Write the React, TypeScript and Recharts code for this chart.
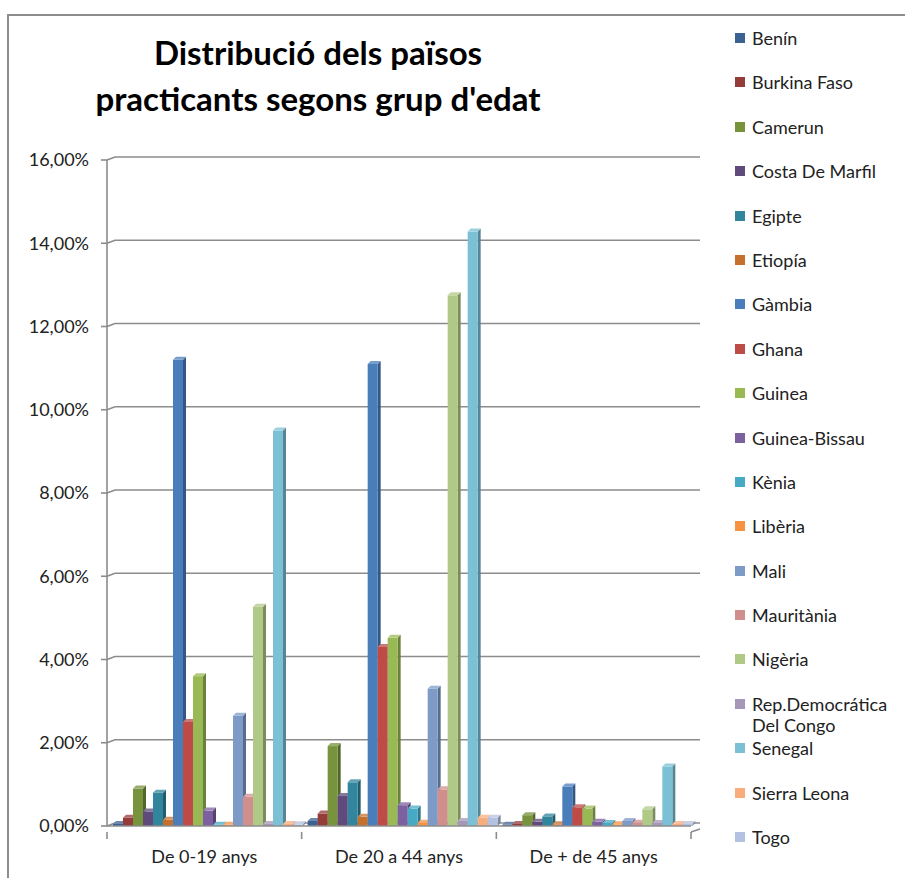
import { BarChart, Bar, XAxis, YAxis, CartesianGrid, Legend } from 'recharts';

const ageGroups = ['De 0-19 anys', 'De 20 a 44 anys', 'De + de 45 anys'];

const countries = [
  'Benín',
  'Burkina Faso',
  'Camerun',
  'Costa De Marfil',
  'Egipte',
  'Etiopía',
  'Gàmbia',
  'Ghana',
  'Guinea',
  'Guinea-Bissau',
  'Kènia',
  'Libèria',
  'Mali',
  'Mauritània',
  'Nigèria',
  'Rep.Democrática Del Congo',
  'Senegal',
  'Sierra Leona',
  'Togo',
];

// percentatges per grup d'edat, en el mateix ordre que countries
const age0to19 = [0.05, 0.2, 0.9, 0.35, 0.8, 0.15, 11.2, 2.5, 3.6, 0.37, 0.03, 0.03, 2.65, 0.7, 5.27, 0.05, 9.5, 0.05, 0.04];
const age20to44 = [0.12, 0.3, 1.92, 0.72, 1.05, 0.22, 11.1, 4.3, 4.52, 0.5, 0.42, 0.08, 3.3, 0.88, 12.75, 0.12, 14.28, 0.2, 0.2];
const age45plus = [0.03, 0.05, 0.26, 0.1, 0.23, 0.04, 0.95, 0.45, 0.42, 0.1, 0.07, 0.04, 0.12, 0.08, 0.4, 0.07, 1.43, 0.05, 0.05];

const yTicks = [0, 2, 4, 6, 8, 10, 12, 14, 16];

const colors = [
  '#3C6293', '#953B39', '#77933C', '#604A7B', '#31859C', '#C7702E',
  '#4A7EBB', '#BE4B48', '#98B954', '#7D60A0', '#46AAC5', '#F69240',
  '#7E9BC8', '#D08E8C', '#B0C986', '#A597B7', '#7BC0D4', '#F9AC7C',
  '#B3C2E0',
];

const FONT = 'Lato, "Noto Sans", sans-serif';
const PLOT_W = 584;

const rows = ageGroups.map((g, gi) => {
  const vals = [age0to19, age20to44, age45plus][gi];
  const row: Record<string, string | number> = { group: g };
  countries.forEach((c, i) => {
    row[c] = vals[i];
  });
  return row;
});

function shade(hex: string, k: number) {
  const n = parseInt(hex.slice(1), 16);
  const ch = [(n >> 16) & 255, (n >> 8) & 255, n & 255].map((v) =>
    Math.max(0, Math.min(255, Math.round(k > 1 ? v + (255 - v) * (k - 1) : v * k)))
  );
  return `rgb(${ch.join(',')})`;
}

const Bar3D = (props: any) => {
  const { x, y, width, height, fill } = props;
  if (width == null || height == null || isNaN(y)) return null;
  const d = 3;
  const dy = 3;
  return (
    <g>
      <polygon
        points={`${x + width},${y} ${x + width + d},${y - dy} ${x + width + d},${y + height - dy} ${x + width},${y + height}`}
        fill={shade(fill, 0.7)}
      />
      <rect x={x} y={y} width={width} height={height} fill={fill} />
      <polygon
        points={`${x},${y} ${x + d},${y - dy} ${x + width + d},${y - dy} ${x + width},${y}`}
        fill={shade(fill, 1.25)}
      />
    </g>
  );
};

const GridLine = (props: any) => {
  const { x1, y1, x2 } = props;
  return (
    <path
      d={`M${x1},${y1} L${x1 + 8},${y1 - 3} L${x2 + 9},${y1 - 3}`}
      stroke="#8c8c8c"
      strokeWidth={1.6}
      fill="none"
    />
  );
};

const CategoryTick = (props: any) => {
  const { x, y, payload, index } = props;
  const half = PLOT_W / 6;
  const axisY = y - 2;
  return (
    <g>
      <line x1={x - half} y1={axisY} x2={x - half} y2={axisY + 7} stroke="#8c8c8c" strokeWidth={1.6} />
      {index === ageGroups.length - 1 && (
        <>
          <line x1={x + half} y1={axisY} x2={x + half} y2={axisY + 7} stroke="#8c8c8c" strokeWidth={1.6} />
          <line x1={x + half} y1={axisY} x2={x + half + 9} y2={axisY - 3} stroke="#8c8c8c" strokeWidth={1.6} />
        </>
      )}
      <text x={x} y={axisY + 31} textAnchor="middle" fontSize={18} fill="#222" fontFamily={FONT}>
        {payload.value}
      </text>
    </g>
  );
};

const LegendList = () => (
  <div style={{ fontFamily: FONT, fontSize: 18, color: '#222' }}>
    {countries.map((c, i) => {
      const wraps = c.length > 20;
      return (
        <div key={c} style={{ height: 44.4, display: 'flex', alignItems: 'flex-start' }}>
          <span
            style={{
              width: 10,
              height: 10,
              background: colors[i],
              marginTop: 7,
              marginRight: 7,
              flex: 'none',
            }}
          />
          <span style={{ width: 150, lineHeight: wraps ? '21px' : '25px', paddingTop: wraps ? 2 : 0 }}>{c}</span>
        </div>
      );
    })}
  </div>
);

export default function App() {
  return (
    <div style={{ position: 'absolute', left: 0, top: 0, width: 905, height: 878, background: '#fff', overflow: 'hidden' }}>
      <div
        style={{
          position: 'absolute',
          left: 7,
          top: 14,
          width: 1000,
          height: 1000,
          borderLeft: '2px solid #8c8c8c',
          borderTop: '2px solid #8c8c8c',
        }}
      />
      <div
        style={{
          position: 'absolute',
          left: 18,
          width: 600,
          top: 29,
          textAlign: 'center',
          whiteSpace: 'nowrap',
          fontFamily: FONT,
          fontWeight: 700,
          fontSize: 33,
          lineHeight: '46px',
          color: '#000',
        }}
      >
        Distribució dels països
        <br />
        practicants segons grup d'edat
      </div>
      <BarChart
        width={905}
        height={878}
        data={rows}
        margin={{ top: 160, right: 214, bottom: 12, left: 0 }}
        barCategoryGap={6}
        barGap={0}
        style={{ position: 'absolute', left: 0, top: 0 }}
      >
        <CartesianGrid vertical={false} horizontal={GridLine} />
        <XAxis
          dataKey="group"
          height={40}
          tickLine={false}
          axisLine={{ stroke: '#8c8c8c', strokeWidth: 1.6 }}
          tick={CategoryTick}
          interval={0}
        />
        <YAxis
          width={107}
          domain={[0, 16]}
          ticks={yTicks}
          interval={0}
          tickFormatter={(v: number) => v.toFixed(2).replace('.', ',') + '%'}
          tick={{ fontSize: 18, fill: '#222', fontFamily: FONT }}
          tickSize={6}
          tickMargin={12}
          tickLine={{ stroke: '#8c8c8c', strokeWidth: 1.6 }}
          axisLine={{ stroke: '#8c8c8c', strokeWidth: 1.6 }}
        />
        <Legend
          layout="vertical"
          align="center"
          verticalAlign="middle"
          content={LegendList}
          wrapperStyle={{ position: 'absolute', left: 735, top: 26, width: 170 }}
        />
        {countries.map((c, i) => (
          <Bar key={c} dataKey={c} fill={colors[i]} shape={Bar3D} isAnimationActive={false} />
        ))}
      </BarChart>
    </div>
  );
}
